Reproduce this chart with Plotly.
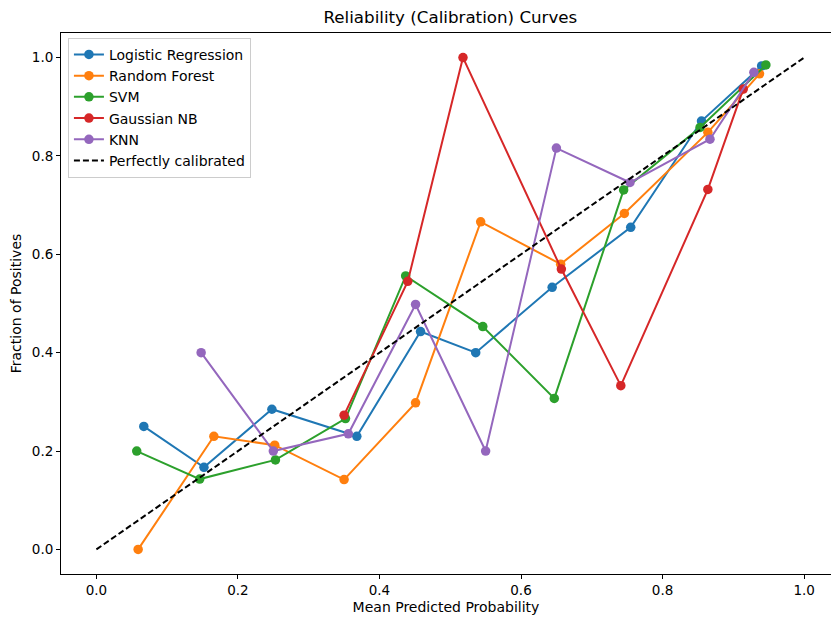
import plotly.graph_objects as go

# Data
lr_x = [0.067, 0.152, 0.248, 0.368, 0.458, 0.536, 0.644, 0.755, 0.855, 0.940]
lr_y = [0.250, 0.167, 0.285, 0.230, 0.443, 0.400, 0.533, 0.655, 0.871, 0.983]

rf_x = [0.059, 0.166, 0.252, 0.350, 0.451, 0.543, 0.656, 0.746, 0.864, 0.937]
rf_y = [0.000, 0.230, 0.212, 0.142, 0.298, 0.666, 0.580, 0.683, 0.848, 0.967]

svm_x = [0.057, 0.146, 0.253, 0.352, 0.437, 0.546, 0.647, 0.745, 0.853, 0.946]
svm_y = [0.200, 0.143, 0.182, 0.266, 0.556, 0.453, 0.307, 0.731, 0.858, 0.985]

gnb_x = [0.350, 0.440, 0.518, 0.657, 0.741, 0.864, 0.914]
gnb_y = [0.273, 0.545, 1.000, 0.570, 0.333, 0.732, 0.936]

knn_x = [0.148, 0.250, 0.356, 0.451, 0.550, 0.650, 0.754, 0.867, 0.929]
knn_y = [0.400, 0.200, 0.235, 0.498, 0.200, 0.816, 0.746, 0.834, 0.970]

diag = [0.0, 1.0]

series = [
    ("Logistic Regression", lr_x, lr_y, "#1f77b4"),
    ("Random Forest", rf_x, rf_y, "#ff7f0e"),
    ("SVM", svm_x, svm_y, "#2ca02c"),
    ("Gaussian NB", gnb_x, gnb_y, "#d62728"),
    ("KNN", knn_x, knn_y, "#9467bd"),
]

fig = go.Figure()
for name, xs, ys, col in series:
    fig.add_trace(go.Scatter(
        x=xs, y=ys, mode="lines+markers", name=name,
        line=dict(color=col, width=2),
        marker=dict(color=col, size=9.5),
    ))

fig.add_trace(go.Scatter(
    x=diag, y=diag, mode="lines", name="Perfectly calibrated",
    line=dict(color="black", width=2, dash="6px,3px"),
))

font = "DejaVu Sans, sans-serif"
axis_common = dict(
    showgrid=False, zeroline=False, showline=True, linecolor="black",
    linewidth=1, ticks="outside", ticklen=4, tickcolor="black",
    tickfont=dict(size=13.5, color="black", family=font),
    tickformat=".1f", automargin=False,
)

fig.update_layout(
    width=831, height=619,
    margin=dict(l=61, r=0, t=33, b=45),
    paper_bgcolor="white", plot_bgcolor="white",
    font=dict(family=font, color="black", size=14),
    title=dict(text="Reliability (Calibration) Curves", x=0.5057, xref="paper",
               xanchor="center", y=1 - 17 / 619, yref="container",
               yanchor="middle", font=dict(size=16.7, family=font, color="black")),
    xaxis=dict(range=[-0.05, 1.038], tickvals=[0, 0.2, 0.4, 0.6, 0.8, 1.0],
               mirror=True,
               title=dict(text="Mean Predicted Probability", standoff=4,
                          font=dict(size=14, family=font)),
               **axis_common),
    yaxis=dict(range=[-0.05, 1.05], tickvals=[0, 0.2, 0.4, 0.6, 0.8, 1.0],
               title=dict(text="Fraction of Positives", standoff=6,
                          font=dict(size=14, family=font)),
               **axis_common),
    legend=dict(x=0.009, y=0.991, xanchor="left", yanchor="top",
                bgcolor="rgba(255,255,255,0.8)", bordercolor="#cccccc",
                borderwidth=1, font=dict(size=14, family=font),
                tracegroupgap=0),
    showlegend=True,
)

fig.write_html("out.html",
               config={"displayModeBar": False},
               post_script="document.body.style.margin='0';document.body.style.overflow='hidden';")
